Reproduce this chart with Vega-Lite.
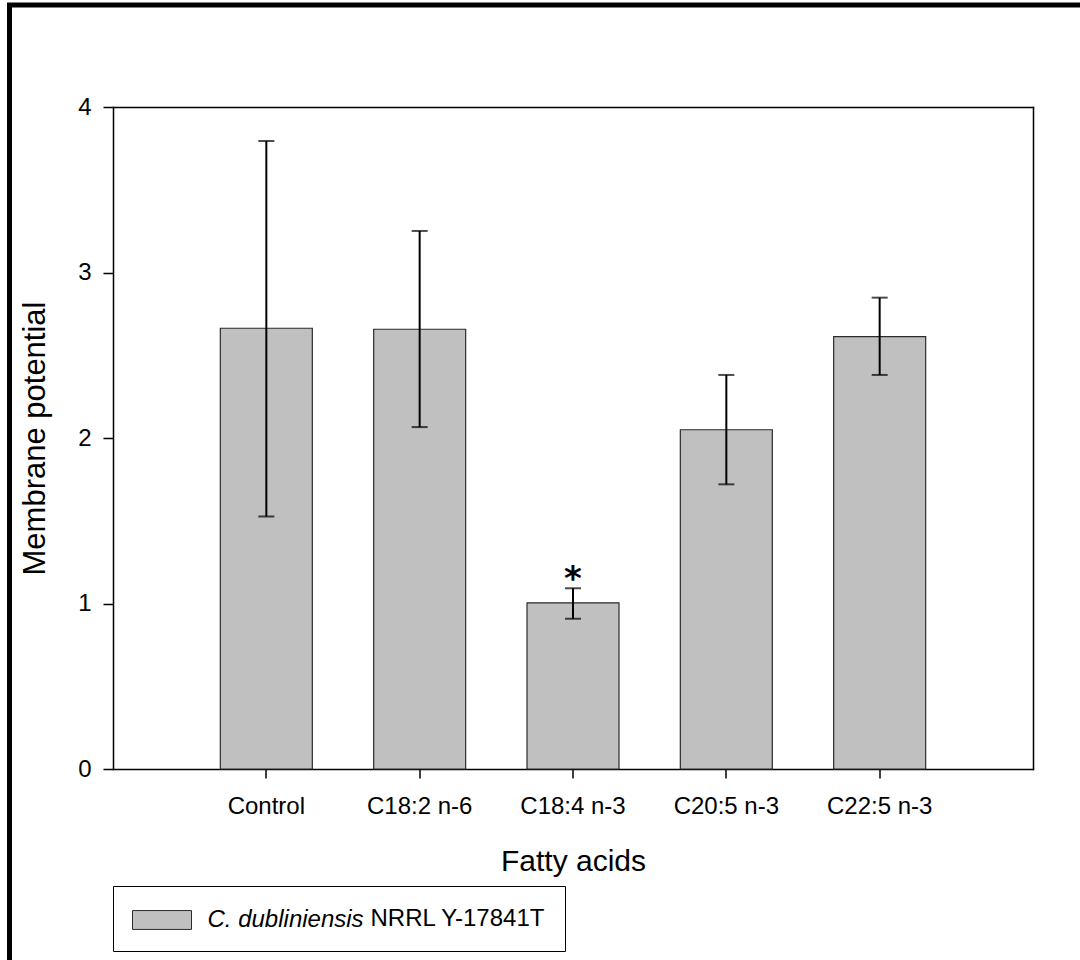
{
  "$schema": "https://vega.github.io/schema/vega-lite/v6.json",
  "width": 1070.5,
  "height": 955,
  "autosize": {"type": "none"},
  "padding": {"left": 9.5, "top": 5, "right": 0, "bottom": 0},
  "background": "white",
  "config": {
    "view": {"stroke": "black", "strokeWidth": 5, "strokeDash": [1070.5, 2025.5, 955, 10]},
    "font": "Liberation Sans",
    "axis": {
      "grid": false,
      "domainColor": "black",
      "domainWidth": 1.5,
      "domainCap": "square",
      "tickColor": "black",
      "tickWidth": 1.5,
      "labelFont": "Liberation Sans",
      "labelFontSize": 24,
      "labelColor": "black",
      "titleFont": "Liberation Sans",
      "titleFontSize": 30,
      "titleFontWeight": "normal",
      "titleColor": "black"
    }
  },
  "data": {
    "values": [
      {"acid": "Control", "strain": "C. dubliniensis", "mean": 2.663, "lo": 1.525, "hi": 3.795, "sig": ""},
      {"acid": "C18:2 n-6", "strain": "C. dubliniensis", "mean": 2.657, "lo": 2.066, "hi": 3.251, "sig": ""},
      {"acid": "C18:4 n-3", "strain": "C. dubliniensis", "mean": 1.004, "lo": 0.908, "hi": 1.092, "sig": "*"},
      {"acid": "C20:5 n-3", "strain": "C. dubliniensis", "mean": 2.05, "lo": 1.72, "hi": 2.381, "sig": ""},
      {"acid": "C22:5 n-3", "strain": "C. dubliniensis", "mean": 2.612, "lo": 2.381, "hi": 2.848, "sig": ""}
    ]
  },
  "resolve": {"axis": {"x": "independent", "y": "independent"}},
  "layer": [
    {
      "mark": {"type": "bar", "stroke": "#2b2b2b", "strokeWidth": 1.2},
      "encoding": {
        "x": {
          "field": "acid", "type": "nominal", "sort": null,
          "scale": {"range": [103.5, 1023.5], "paddingInner": 0.4, "paddingOuter": 0.7},
          "axis": {"orient": "bottom", "offset": -191, "title": "Fatty acids", "labelAngle": 0, "tickSize": 9, "labelPadding": 16, "titlePadding": 28, "labelLimit": 400}
        },
        "y": {
          "field": "mean", "type": "quantitative",
          "scale": {"domain": [0, 4], "range": [764, 102], "nice": false, "zero": true},
          "axis": {"orient": "left", "offset": -103.5, "values": [0, 1, 2, 3, 4], "title": "Membrane potential", "titleFontSize": 31, "tickSize": 10, "labelPadding": 12, "titlePadding": 26}
        },
        "fill": {
          "field": "strain", "type": "nominal",
          "scale": {"range": ["#c0c0c0"]},
          "legend": {
            "orient": "none", "legendX": 103.5, "legendY": 881,
            "title": "NRRL Y-17841T", "titleOrient": "right", "titleAnchor": "middle", "titleBaseline": "middle", "titleFont": "Liberation Sans", "titleFontSize": 24, "titleFontWeight": "normal", "titleColor": "black", "titlePadding": 7,
            "labelFont": "Liberation Sans", "labelFontSize": 24, "labelFontStyle": "italic", "labelColor": "black", "labelOffset": 30, "labelLimit": 400,
            "symbolType": "M-2,-0.64H2V0.64H-2Z", "symbolSize": 870.25, "symbolOffset": 15, "symbolStrokeColor": "#2b2b2b", "symbolStrokeWidth": 1, "symbolOpacity": 1,
            "strokeColor": "black", "padding": 18.5
          }
        }
      }
    },
    {
      "mark": {"type": "rule", "color": "black", "strokeWidth": 2},
      "encoding": {
        "x": {"field": "acid", "type": "nominal", "sort": null, "axis": {"orient": "top", "offset": -102, "labels": false, "ticks": false, "title": null}},
        "y": {"field": "lo", "type": "quantitative", "axis": {"orient": "right", "offset": -47, "labels": false, "ticks": false, "title": null}},
        "y2": {"field": "hi"}
      }
    },
    {
      "mark": {"type": "tick", "color": "black", "thickness": 2, "size": 16},
      "encoding": {
        "x": {"field": "acid", "type": "nominal", "sort": null, "axis": null},
        "y": {"field": "hi", "type": "quantitative", "axis": null}
      }
    },
    {
      "mark": {"type": "tick", "color": "black", "thickness": 2, "size": 16},
      "encoding": {
        "x": {"field": "acid", "type": "nominal", "sort": null, "axis": null},
        "y": {"field": "lo", "type": "quantitative", "axis": null}
      }
    },
    {
      "mark": {"type": "text", "font": "DejaVu Sans", "fontWeight": "bold", "fontSize": 34, "color": "black", "baseline": "alphabetic", "dy": 2},
      "encoding": {
        "x": {"field": "acid", "type": "nominal", "sort": null, "axis": null},
        "y": {"field": "hi", "type": "quantitative", "axis": null},
        "text": {"field": "sig"}
      }
    }
  ]
}
